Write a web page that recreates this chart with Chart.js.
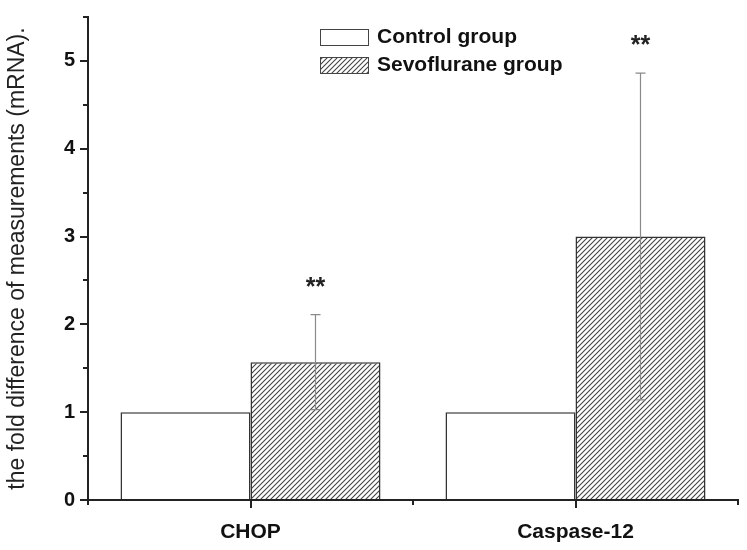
<!DOCTYPE html>
<html>
<head>
<meta charset="utf-8">
<script src="https://cdn.jsdelivr.net/npm/chart.js@4.4.1/dist/chart.umd.min.js"></script>
<style>
  body { margin: 0; background: #fff; }
</style>
</head>
<body>
<canvas id="myChart" width="747" height="550"></canvas>
<script>
// data
const categories = ['CHOP', 'Caspase-12'];
const controlValues = [1, 1];
const sevoValues = [1.57, 3.0];
const sevoErrors = [0.54, 1.86];
const significance = ['**', '**'];
const seriesNames = ['Control group', 'Sevoflurane group'];
const yTitle = 'the fold difference of measurements (mRNA).';

// diagonal hatch fill
function makeHatch() {
    const s = 5;
    const c = document.createElement('canvas');
    c.width = s; c.height = s;
    const g = c.getContext('2d');
    g.fillStyle = '#fff';
    g.fillRect(0, 0, s, s);
    g.strokeStyle = '#444';
    g.lineWidth = 1.1;
    g.beginPath();
    g.moveTo(0, s); g.lineTo(s, 0);
    g.moveTo(-1, 1); g.lineTo(1, -1);
    g.moveTo(s - 1, s + 1); g.lineTo(s + 1, s - 1);
    g.stroke();
    return document.getElementById('myChart').getContext('2d').createPattern(c, 'repeat');
}
const hatch = makeHatch();

// axis ticks, error bars, stars and legend
const extras = {
    id: 'extras',
    afterDraw(chart) {
        const ctx = chart.ctx;
        const x = chart.scales.x, y = chart.scales.y;
        const area = chart.chartArea;
        ctx.save();

        // minor y ticks
        ctx.strokeStyle = '#222';
        ctx.lineWidth = 2;
        for (let v = 0.5; v <= 5.5; v += 1) {
            const py = Math.round(y.getPixelForValue(v));
            ctx.beginPath();
            ctx.moveTo(area.left - 5, py);
            ctx.lineTo(area.left, py);
            ctx.stroke();
        }
        // x ticks: centres long, boundaries short
        categories.forEach((c, i) => {
            const px = Math.round(x.getPixelForValue(i));
            ctx.beginPath();
            ctx.moveTo(px, area.bottom);
            ctx.lineTo(px, area.bottom + 8);
            ctx.stroke();
        });
        for (let i = -0.5; i <= categories.length - 0.5; i += 1) {
            const px = Math.round(x.getPixelForValue(i));
            ctx.beginPath();
            ctx.moveTo(px, area.bottom);
            ctx.lineTo(px, area.bottom + 5);
            ctx.stroke();
        }

        // error bars on sevoflurane bars
        const meta = chart.getDatasetMeta(1);
        ctx.strokeStyle = '#8a8a8a';
        ctx.lineWidth = 1.2;
        meta.data.forEach((bar, i) => {
            const top = y.getPixelForValue(sevoValues[i] + sevoErrors[i]);
            const bot = y.getPixelForValue(sevoValues[i] - sevoErrors[i]);
            ctx.beginPath();
            ctx.moveTo(bar.x, top); ctx.lineTo(bar.x, bot);
            ctx.moveTo(bar.x - 5, top); ctx.lineTo(bar.x + 5, top);
            ctx.moveTo(bar.x - 5, bot); ctx.lineTo(bar.x + 5, bot);
            ctx.stroke();

            ctx.fillStyle = '#222';
            ctx.font = 'bold 25px Arial';
            ctx.textAlign = 'center';
            ctx.textBaseline = 'alphabetic';
            ctx.fillText(significance[i], bar.x, top - 20);
        });

        // legend
        const lx = area.left + 232, ly = 29;
        const fills = ['#fff', hatch];
        seriesNames.forEach((name, i) => {
            const by = ly + i * 28;
            ctx.fillStyle = fills[i];
            ctx.fillRect(lx, by, 48, 16);
            ctx.strokeStyle = '#444';
            ctx.lineWidth = 1;
            ctx.strokeRect(lx + 0.5, by + 0.5, 48, 16);
            ctx.fillStyle = '#111';
            ctx.font = 'bold 21px Arial';
            ctx.textAlign = 'left';
            ctx.textBaseline = 'middle';
            ctx.fillText(name, lx + 57, by + 8);
        });
        ctx.restore();
    }
};

const config = {
    type: 'bar',
    data: {
        labels: categories,
        datasets: [
            {
                label: seriesNames[0],
                data: controlValues,
                backgroundColor: '#fff',
                borderColor: '#333',
                borderWidth: 1.5
            },
            {
                label: seriesNames[1],
                data: sevoValues,
                backgroundColor: hatch,
                borderColor: '#333',
                borderWidth: 1.5
            }
        ]
    },
    options: {
        responsive: false,
        animation: false,
        layout: { padding: { left: 0, right: 9, top: 15, bottom: 0 } },
        datasets: { bar: { categoryPercentage: 0.8, barPercentage: 1 } },
        plugins: {
            legend: { display: false },
            tooltip: { enabled: false }
        },
        scales: {
            x: {
                grid: { display: true, drawOnChartArea: false, color: 'rgba(0,0,0,0)', tickLength: 8 },
                border: { color: '#222', width: 2 },
                ticks: { color: '#111', font: { family: 'Arial', size: 21, weight: 'bold' }, padding: 12 },
                afterFit: s => { s.height = 50; }
            },
            y: {
                min: 0,
                max: 5.5,
                grid: { drawOnChartArea: false, color: '#222', lineWidth: 2, tickLength: 8 },
                border: { color: '#222', width: 2 },
                ticks: {
                    stepSize: 1,
                    includeBounds: false,
                    color: '#111',
                    padding: 5,
                    font: { family: 'Arial', size: 20, weight: 'bold' }
                },
                title: {
                    display: true,
                    text: yTitle,
                    color: '#222',
                    font: { family: 'Arial', size: 23 },
                    padding: { top: 4, bottom: 0 }
                },
                afterFit: s => { s.width = 88; }
            }
        }
    },
    plugins: [extras]
};

new Chart(document.getElementById('myChart').getContext('2d'), config);
</script>
</body>
</html>
